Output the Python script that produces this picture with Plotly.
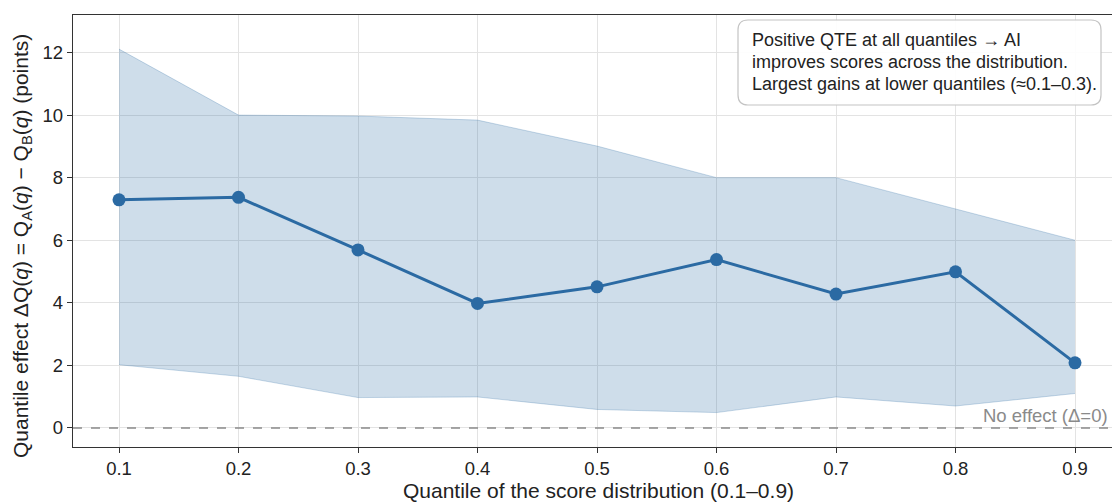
import plotly.graph_objects as go

quantiles = [0.1, 0.2, 0.3, 0.4, 0.5, 0.6, 0.7, 0.8, 0.9]
qte = [7.29, 7.37, 5.69, 3.98, 4.51, 5.38, 4.28, 4.99, 2.08]
ci_low = [2.02, 1.65, 0.97, 0.99, 0.59, 0.49, 0.99, 0.70, 1.10]
ci_high = [12.11, 10.0, 9.97, 9.84, 9.01, 8.0, 8.0, 6.99, 6.0]
x_ticks = [0.1, 0.2, 0.3, 0.4, 0.5, 0.6, 0.7, 0.8, 0.9]
y_ticks = [0, 2, 4, 6, 8, 10, 12]
note_lines = [
    "Positive QTE at all quantiles → AI",
    "improves scores across the distribution.",
    "Largest gains at lower quantiles (≈0.1–0.3).",
]

W, H = 1112, 504
L, R, T, B = 73, 0, 15, 57
pw, ph = W - L - R, H - T - B

def px(x):
    return (x - L) / pw

def py(y):
    return (H - B - y) / ph

line_color = "#2b6aa3"
font_family = "Liberation Sans, Arial, Helvetica, sans-serif"
tick_size = 18.5
title_size = 21

fig = go.Figure()
fig.add_trace(go.Scatter(x=quantiles, y=ci_low, mode="lines",
                         line=dict(color="rgba(43,106,163,0.25)", width=1),
                         showlegend=False, hoverinfo="skip"))
fig.add_trace(go.Scatter(x=quantiles, y=ci_high, mode="lines", fill="tonexty",
                         fillcolor="rgba(43,106,163,0.23)",
                         line=dict(color="rgba(43,106,163,0.25)", width=1),
                         showlegend=False, hoverinfo="skip"))
fig.add_trace(go.Scatter(x=quantiles, y=qte, mode="lines+markers",
                         line=dict(color=line_color, width=3),
                         marker=dict(color=line_color, size=13),
                         showlegend=False))

# zero reference line
fig.add_shape(type="line", xref="paper", yref="y", x0=0, x1=1, y0=0, y1=0,
              line=dict(color="#8a8a8a", width=1.5, dash="dash"), layer="above")
fig.add_annotation(text="No effect (Δ=0)", xref="paper", yref="paper",
                   x=px(1110), y=py(415), xanchor="right", yanchor="middle",
                   showarrow=False, font=dict(size=tick_size, color="#8a8a8a", family=font_family))

# rounded note box
x0, x1, y0, y1, r = px(738), px(1101), py(20), py(105), 10
rx, ry = r / pw, r / ph
path = (f"M {x0+rx},{y1} L {x1-rx},{y1} Q {x1},{y1} {x1},{y1+ry} "
        f"L {x1},{y0-ry} Q {x1},{y0} {x1-rx},{y0} L {x0+rx},{y0} "
        f"Q {x0},{y0} {x0},{y0-ry} L {x0},{y1+ry} Q {x0},{y1} {x0+rx},{y1} Z")
fig.add_shape(type="path", xref="paper", yref="paper", path=path,
              fillcolor="rgba(255,255,255,0.9)", line=dict(color="#c4c4c4", width=1.2),
              layer="above")
for i, txt in enumerate(note_lines):
    fig.add_annotation(text=txt, xref="paper", yref="paper", x=px(750), y=py(40 + 22 * i),
                       xanchor="left", yanchor="middle", showarrow=False,
                       font=dict(size=18, color="#222", family=font_family))

# axis titles
fig.add_annotation(text="Quantile of the score distribution (0.1–0.9)", xref="paper", yref="paper",
                   x=px(598), y=py(490), xanchor="center", yanchor="middle", showarrow=False,
                   font=dict(size=title_size, color="#222", family=font_family))
fig.add_annotation(text="Quantile effect ΔQ(<i>q</i>) = Q<sub>A</sub>(<i>q</i>) − Q<sub>B</sub>(<i>q</i>) (points)",
                   xref="paper", yref="paper", x=px(22), y=py(246), textangle=-90,
                   xanchor="center", yanchor="middle", showarrow=False,
                   font=dict(size=title_size, color="#222", family=font_family))

fig.update_layout(
    width=W, height=H,
    margin=dict(l=L, r=R, t=T, b=B),
    paper_bgcolor="white", plot_bgcolor="white",
    font=dict(family=font_family, size=tick_size, color="#222"),
    xaxis=dict(range=[0.0615, 0.9 + (W - 1075) / 1195], tickvals=x_ticks,
               ticktext=[f"{v:.1f}" for v in x_ticks],
               tickfont=dict(size=tick_size),
               showgrid=True, gridcolor="#e3e3e3", gridwidth=1,
               showline=True, linecolor="#333", linewidth=1.3, mirror=True,
               ticks="outside", ticklen=5, tickcolor="#333", zeroline=False),
    yaxis=dict(range=[-0.61, 13.2], tickvals=y_ticks,
               tickfont=dict(size=tick_size),
               showgrid=True, gridcolor="#e3e3e3", gridwidth=1,
               showline=True, linecolor="#333", linewidth=1.3, mirror=False,
               ticks="outside", ticklen=5, tickcolor="#333", zeroline=False),
)

fig.write_html("out.html", config={"displayModeBar": False},
               post_script="document.body.style.margin='0';")
